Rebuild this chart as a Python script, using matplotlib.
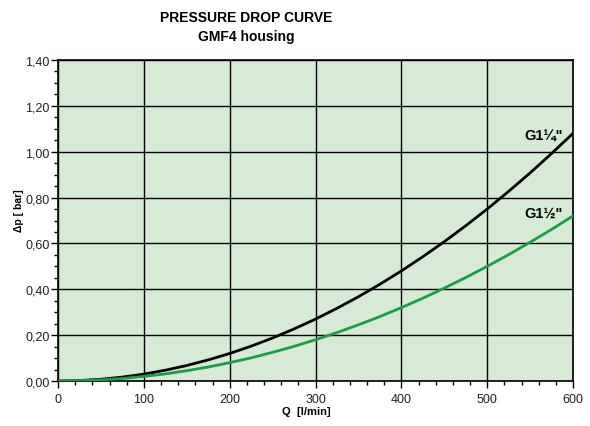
import matplotlib
matplotlib.use('Agg')
import matplotlib.pyplot as plt
from matplotlib.ticker import MultipleLocator, FuncFormatter

# flow rate [l/min] and pressure drop [bar]
flow = [0, 25, 50, 75, 100, 125, 150, 175, 200, 225, 250, 275, 300,
        325, 350, 375, 400, 425, 450, 475, 500, 525, 550, 575, 600]
dp_g114 = [0.000, 0.002, 0.0075, 0.017, 0.030, 0.047, 0.0675, 0.092, 0.120,
           0.152, 0.1875, 0.227, 0.270, 0.317, 0.3675, 0.422, 0.480, 0.542,
           0.6075, 0.677, 0.750, 0.827, 0.9075, 0.992, 1.080]
dp_g112 = [0.000, 0.0013, 0.005, 0.011, 0.020, 0.031, 0.045, 0.061, 0.080,
           0.101, 0.125, 0.151, 0.180, 0.211, 0.245, 0.281, 0.320, 0.361,
           0.405, 0.451, 0.500, 0.551, 0.605, 0.661, 0.720]

plt.rcParams['font.family'] = ['Liberation Sans', 'DejaVu Sans']

fig = plt.figure(figsize=(5.9, 4.27), dpi=100)
ax = fig.add_axes([58 / 590, 45 / 427, 515 / 590, 321 / 427])
ax.set_facecolor('#d6ead5')

ax.plot(flow, dp_g114, color='black', lw=2, zorder=3)
ax.plot(flow, dp_g112, color='#1a9e48', lw=2, zorder=3)

ax.set_xlim(0, 600)
ax.set_ylim(0, 1.4)
ax.xaxis.set_major_locator(MultipleLocator(100))
ax.xaxis.set_minor_locator(MultipleLocator(20))
ax.yaxis.set_major_locator(MultipleLocator(0.2))
ax.yaxis.set_minor_locator(MultipleLocator(0.05))
ax.yaxis.set_major_formatter(FuncFormatter(lambda v, p: f'{v:.2f}'.replace('.', ',')))
ax.grid(which='major', color='black', lw=1, zorder=1)
ax.set_axisbelow(True)
ax.tick_params(which='major', length=5, width=1, labelsize=9, colors='black',
               labelcolor='#222222')
ax.tick_params(axis='y', which='major', pad=1)
ax.tick_params(which='minor', length=3, width=1, colors='black')
for s in ax.spines.values():
    s.set_linewidth(1.2)

# curve labels, placed in pixel coords of the figure
fig.text(524 / 590, 1 - 141 / 427, 'G1¼"', ha='left', va='baseline',
         fontsize=10.5, fontweight='bold')
fig.text(524 / 590, 1 - 218 / 427, 'G1½"', ha='left', va='baseline',
         fontsize=10.5, fontweight='bold')

fig.text(246 / 590, 1 - 18 / 427, 'PRESSURE DROP CURVE', ha='center',
         va='center', fontsize=10, fontweight='bold')
fig.text(246 / 590, 1 - 37 / 427, 'GMF4 housing', ha='center',
         va='center', fontsize=10, fontweight='bold')
fig.text(19 / 590, 1 - 211 / 427, 'Δp [ bar]', rotation=90, ha='center',
         va='center', fontsize=7.5, fontweight='bold')
fig.text(282 / 590, 1 - 412 / 427, 'Q  [l/min]', ha='left',
         va='center', fontsize=8, fontweight='bold')

fig.savefig('out.png', dpi=100)
